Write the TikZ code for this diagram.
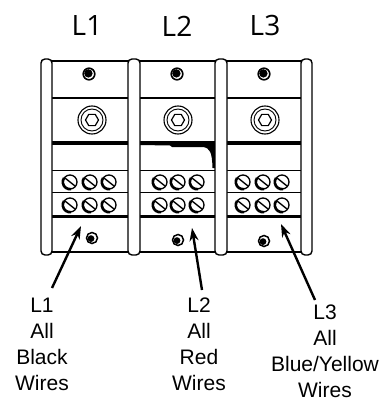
\documentclass[tikz,border=0pt]{standalone}
\usepackage{fontspec}
\setmainfont{Liberation Sans}
\newfontfamily\topfont{Open Sans}
\usetikzlibrary{arrows.meta}
\begin{document}
\begin{tikzpicture}[x=1pt,y=-1pt,
  post/.style={draw,fill=white,line width=1.4pt,rounded corners=4pt},
  thinline/.style={line width=0.9pt},
  frameline/.style={line width=1.8pt},
  heavyline/.style={line width=3.4pt},
  arr/.style={line width=2.4pt,-{Stealth[length=13pt,width=9pt]}},
  toplab/.style={font=\topfont\fontsize{28}{30}\selectfont,inner sep=0pt},
  botlab/.style={font=\fontsize{21}{26}\selectfont,align=center,inner sep=0pt,anchor=north}]
\useasboundingbox (0,0) rectangle (382,401);

% top labels
\node[toplab] (t1) at (87,26) {L1};
\node[toplab] (t2) at (177,26) {L2};
\node[toplab] (t3) at (265,26) {L3};

% frame lines
\draw[frameline] (41,61) -- (312,61);
\draw[frameline] (41,252) -- (312,252);

% per-column details
\foreach \a/\b/\hx/\hy/\bx/\by/\sa/\sb/\sc in {52/128/89/74/92/238/70/90/109, 140/215/177/74/178/240/160/178/197, 227/301/264/74/264/241/243/263/282}{
  \draw[line width=1.2pt] (\a,98) -- (\b,98);
  \draw[heavyline] (\a,143) -- (\b,143);
  \draw[thinline] (\a,170) -- (\b,170);
  \draw[thinline] (\a,192.5) -- (\b,192.5);
  \draw[heavyline] (\a,216.5) -- (\b,216.5);
  % top hole
  \draw[line width=1.6pt] (\hx,\hy) circle (5.8);
  \fill (\hx,\hy) ++(-0.6,-0.6) circle (4.2);
  % bottom hole
  \draw[line width=1.5pt] (\bx,\by) circle (5.5);
  \fill (\bx,\by) ++(-1,0.6) circle (3.4);
  % screws
  \foreach \sx in {\sa,\sb,\sc}{
    \foreach \sy in {182,205}{
      \draw[line width=1.3pt] (\sx,\sy) circle (7);
      \draw[line width=2.6pt] ([shift={(\sx,\sy)}]80:7.2) arc[start angle=80,end angle=215,radius=7.2];
      \draw[line width=1.4pt] (\sx-5,\sy-4) -- (\sx+5,\sy+4);
    }
  }
}

% hex sockets
\foreach \cx in {92,178,265}{
  \draw[line width=1.1pt] (\cx,120) circle (14);
  \draw[line width=0.9pt] (\cx,120) circle (11);
  \draw[line width=1.2pt] (\cx,120) +(0:6.5) -- +(60:6.5) -- +(120:6.5) -- +(180:6.5) -- +(240:6.5) -- +(300:6.5) -- cycle;
}

% shaded wedge in column 2
\fill (140,141.5) -- (215,141.5) -- (215,168) -- (212.5,168)
  .. controls (212,152) and (210,148) .. (203,147) -- (172,147) -- (170,145.5) -- (140,145) -- cycle;

% posts
\draw[post] (41,59) rectangle (52,255);
\draw[post] (128,59) rectangle (140,255);
\draw[post] (215,59) rectangle (227,255);
\draw[post] (301,59) rectangle (312,255);

% bottom labels
\node[botlab] (b1) at (42,298) {L1\\All\\Black\\Wires};
\node[botlab] (b2) at (199,298) {L2\\All\\Red\\Wires};
\node[botlab] (b3) at (325,305) {L3\\All\\Blue/Yellow\\Wires};

% arrows
\coordinate (s1) at (52,288);
\coordinate (e1) at (81,226);
\coordinate (s2) at (202,290);
\coordinate (e2) at (192,228);
\coordinate (s3) at (315,300);
\coordinate (e3) at (281,224);
\draw[arr] (s1) -- (e1);
\draw[arr] (s2) -- (e2);
\draw[arr] (s3) -- (e3);
\end{tikzpicture}
\end{document}
